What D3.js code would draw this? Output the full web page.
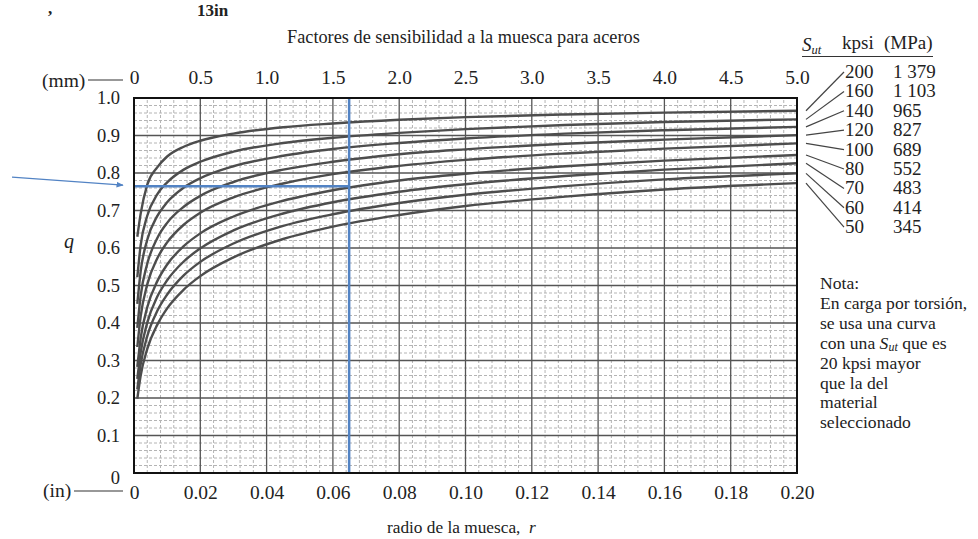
<!DOCTYPE html>
<html>
<head>
<meta charset="utf-8">
<script src="https://cdn.jsdelivr.net/npm/d3@7"></script>
<style>
  body { margin: 0; background: #fff; }
  svg { display: block; font-family: "Liberation Serif", "Times New Roman", serif; }
</style>
</head>
<body>
<div id="chart"></div>
<script>
// notch radius (in) where the curves were read
const rVals = [0.001, 0.002, 0.004, 0.007, 0.01, 0.015, 0.02, 0.03, 0.045, 0.06, 0.08, 0.10, 0.13, 0.16, 0.20];

// q values
const q200 = [0.630, 0.691, 0.769, 0.815, 0.844, 0.870, 0.886, 0.905, 0.922, 0.932, 0.942, 0.949, 0.956, 0.961, 0.966];
const q160 = [0.522, 0.607, 0.686, 0.743, 0.775, 0.809, 0.830, 0.857, 0.880, 0.894, 0.907, 0.917, 0.928, 0.936, 0.943];
const q140 = [0.451, 0.537, 0.622, 0.685, 0.722, 0.761, 0.786, 0.818, 0.846, 0.864, 0.880, 0.892, 0.905, 0.914, 0.923];
const q120 = [0.387, 0.472, 0.558, 0.626, 0.667, 0.710, 0.739, 0.776, 0.809, 0.830, 0.850, 0.863, 0.878, 0.889, 0.901];
const q100 = [0.336, 0.417, 0.503, 0.572, 0.615, 0.662, 0.694, 0.735, 0.772, 0.797, 0.819, 0.835, 0.852, 0.865, 0.879];
const q80  = [0.283, 0.359, 0.442, 0.511, 0.556, 0.605, 0.639, 0.684, 0.726, 0.754, 0.780, 0.798, 0.818, 0.833, 0.848];
const q70  = [0.251, 0.321, 0.401, 0.470, 0.514, 0.564, 0.599, 0.647, 0.692, 0.722, 0.750, 0.770, 0.792, 0.809, 0.826];
const q60  = [0.223, 0.289, 0.365, 0.432, 0.476, 0.527, 0.563, 0.612, 0.659, 0.690, 0.720, 0.742, 0.765, 0.783, 0.799];
const q50  = [0.198, 0.259, 0.331, 0.395, 0.439, 0.489, 0.525, 0.575, 0.624, 0.657, 0.688, 0.712, 0.737, 0.756, 0.773];

const sutKpsi = ["200", "160", "140", "120", "100", "80", "70", "60", "50"];
const sutMpa = ["1 379", "1 103", "965", "827", "689", "552", "483", "414", "345"];
const curves = [q200, q160, q140, q120, q100, q80, q70, q60, q50];

// axis ticks
const inTicks = [0, 0.02, 0.04, 0.06, 0.08, 0.10, 0.12, 0.14, 0.16, 0.18, 0.20];
const mmTicks = [0, 0.5, 1.0, 1.5, 2.0, 2.5, 3.0, 3.5, 4.0, 4.5, 5.0];
const qTicks = [0, 0.1, 0.2, 0.3, 0.4, 0.5, 0.6, 0.7, 0.8, 0.9, 1.0];

// blue reading lines
const readR = 0.0649;
const readQ = 0.765;

const noteLines = ["Nota:", "En carga por torsión,", "se usa una curva", "con una |S|ut| que es",
                   "20 kpsi mayor", "que la del", "material", "seleccionado"];

const W = 978, H = 539;
const blue = "#5283c4";
const ink = "#222";

const svg = d3.select("#chart").append("svg")
    .attr("width", W).attr("height", H);

const x = d3.scaleLinear().domain([0, 0.2]).range([134, 797]);
const xmm = d3.scaleLinear().domain([0, 5]).range([134, 797]);
const y = d3.scaleLinear().domain([0, 1]).range([473, 98]);

// minor dashed grid
const minorX = d3.range(0, 50).filter(i => i % 5 !== 0).map(i => i * 0.004);
const minorY = d3.range(0, 50).filter(i => i % 5 !== 0).map(i => i * 0.02);

const grid = svg.append("g");
grid.selectAll(".mx").data(minorX).enter().append("line")
    .attr("x1", d => x(d)).attr("x2", d => x(d))
    .attr("y1", y(0)).attr("y2", y(1))
    .attr("stroke", "#b4b4b4").attr("stroke-width", 1).attr("stroke-dasharray", "3,2");
grid.selectAll(".my").data(minorY).enter().append("line")
    .attr("x1", x(0)).attr("x2", x(0.2))
    .attr("y1", d => y(d)).attr("y2", d => y(d))
    .attr("stroke", "#b4b4b4").attr("stroke-width", 1).attr("stroke-dasharray", "3,2");

// major grid
grid.selectAll(".Mx").data(inTicks).enter().append("line")
    .attr("x1", d => x(d)).attr("x2", d => x(d))
    .attr("y1", y(0)).attr("y2", y(1))
    .attr("stroke", "#555").attr("stroke-width", 1.3);
grid.selectAll(".My").data(qTicks).enter().append("line")
    .attr("x1", x(0)).attr("x2", x(0.2))
    .attr("y1", d => y(d)).attr("y2", d => y(d))
    .attr("stroke", "#555").attr("stroke-width", 1.3);

// curves
svg.append("clipPath").attr("id", "plotClip")
  .append("rect").attr("x", x(0)).attr("y", y(1)).attr("width", x(0.2) - x(0)).attr("height", y(0) - y(1));

const line = d3.line()
    .x((d, i) => x(rVals[i]))
    .y(d => y(d))
    .curve(d3.curveMonotoneX);

svg.append("g").attr("clip-path", "url(#plotClip)")
  .selectAll("path").data(curves).enter().append("path")
    .attr("d", line)
    .attr("fill", "none")
    .attr("stroke", "#4d4d4d")
    .attr("stroke-width", 2.4);

// blue reading lines
svg.append("line")
    .attr("x1", x(readR)).attr("x2", x(readR))
    .attr("y1", y(0)).attr("y2", y(1))
    .attr("stroke", blue).attr("stroke-width", 2.5);
svg.append("line")
    .attr("x1", x(0)).attr("x2", x(readR))
    .attr("y1", y(readQ)).attr("y2", y(readQ))
    .attr("stroke", blue).attr("stroke-width", 2.5);

// arrow pointing at the q reading
svg.append("defs").append("marker")
    .attr("id", "arrow").attr("viewBox", "0 0 10 10")
    .attr("refX", 9).attr("refY", 5)
    .attr("markerWidth", 6).attr("markerHeight", 6)
    .attr("orient", "auto")
  .append("path").attr("d", "M0,1 L10,5 L0,9 z").attr("fill", blue);
svg.append("line")
    .attr("x1", 12).attr("y1", y(readQ) - 9)
    .attr("x2", 123).attr("y2", y(readQ) - 1)
    .attr("stroke", blue).attr("stroke-width", 1.2)
    .attr("marker-end", "url(#arrow)");

// frame
svg.append("rect")
    .attr("x", x(0)).attr("y", y(1))
    .attr("width", x(0.2) - x(0)).attr("height", y(0) - y(1))
    .attr("fill", "none").attr("stroke", "#111").attr("stroke-width", 2);

// axes
const fmtIn = d => d === 0 ? "0" : d3.format(".2f")(d);
const fmtMm = d => d === 0 ? "0" : d3.format(".1f")(d);
const fmtQ = d => d === 0 ? "0" : d3.format(".1f")(d);

const bottomAxis = svg.append("g")
    .attr("transform", `translate(0, ${y(0) + 9})`)
    .call(d3.axisBottom(x).tickValues(inTicks).tickFormat(fmtIn).tickSize(0));
const topAxis = svg.append("g")
    .attr("transform", `translate(0, ${y(1) - 11})`)
    .call(d3.axisTop(xmm).tickValues(mmTicks).tickFormat(fmtMm).tickSize(0));
const leftAxis = svg.append("g")
    .attr("transform", `translate(${x(0) - 14}, 0)`)
    .call(d3.axisLeft(y).tickValues(qTicks).tickFormat(fmtQ).tickSize(0));

[bottomAxis, topAxis].forEach(a => {
  a.select(".domain").remove();
  a.selectAll("text")
    .attr("font-family", "Liberation Serif, serif")
    .attr("font-size", 19.5)
    .attr("fill", ink);
});
leftAxis.select(".domain").remove();
leftAxis.selectAll("text")
    .attr("font-family", "Liberation Serif, serif")
    .attr("font-size", 18.5)
    .attr("fill", ink);
bottomAxis.selectAll("text").attr("dy", "0.71em");
topAxis.selectAll("text").attr("dy", "0");
leftAxis.selectAll("text").attr("dy", "0.32em").attr("x", 0);
leftAxis.selectAll(".tick").filter(d => d === 0).select("text").attr("dy", "0.55em");

// unit labels with leader dashes
svg.append("text").attr("x", 42).attr("y", 87)
    .attr("font-size", 19.5).attr("fill", ink).text("(mm)");
svg.append("line").attr("x1", 88).attr("x2", 123).attr("y1", 80).attr("y2", 80)
    .attr("stroke", "#333").attr("stroke-width", 1.2);
svg.append("text").attr("x", 43).attr("y", 497)
    .attr("font-size", 19.5).attr("fill", ink).text("(in)");
svg.append("line").attr("x1", 74).attr("x2", 123).attr("y1", 491).attr("y2", 491)
    .attr("stroke", "#333").attr("stroke-width", 1.2);

// titles
svg.append("text").attr("x", 287).attr("y", 43)
    .attr("font-size", 18.3).attr("fill", ink)
    .text("Factores de sensibilidad a la muesca para aceros");
svg.append("text").attr("x", 387).attr("y", 533)
    .attr("font-size", 17.3).attr("fill", ink)
    .attr("xml:space", "preserve")
    .html('radio de la muesca,  <tspan font-style="italic">r</tspan>');
svg.append("text").attr("x", 64).attr("y", 248)
    .attr("font-size", 20).attr("font-style", "italic").attr("fill", ink).text("q");

// legend header
const hdr = svg.append("text").attr("x", 802).attr("y", 51).attr("font-size", 19).attr("fill", ink);
hdr.append("tspan").attr("font-style", "italic").text("S");
hdr.append("tspan").attr("font-style", "italic").attr("font-size", 12.5).attr("dy", 3).text("ut");
svg.append("text").attr("x", 842).attr("y", 49).attr("font-size", 19).attr("fill", ink).text("kpsi");
svg.append("text").attr("x", 884).attr("y", 49).attr("font-size", 19).attr("fill", ink).text("(MPa)");
svg.append("line").attr("x1", 802).attr("x2", 933).attr("y1", 56.5).attr("y2", 56.5)
    .attr("stroke", "#333").attr("stroke-width", 1.2);

// legend rows and leader lines
const rowY = i => 78 + i * 19.4;
const rows = svg.append("g").selectAll("g").data(sutKpsi).enter().append("g");
rows.append("text").attr("x", 845).attr("y", (d, i) => rowY(i))
    .attr("font-size", 19).attr("fill", ink).text(d => d);
rows.append("text").attr("x", 893).attr("y", (d, i) => rowY(i))
    .attr("font-size", 19).attr("fill", ink).text((d, i) => sutMpa[i]);
rows.append("line")
    .attr("x1", x(0.2) + 9).attr("y1", (d, i) => y(curves[i][curves[i].length - 1]))
    .attr("x2", 844).attr("y2", (d, i) => rowY(i) - 6)
    .attr("stroke", "#444").attr("stroke-width", 1.2);

// note
const note = svg.append("g");
noteLines.forEach((s, i) => {
  const t = note.append("text").attr("x", 820).attr("y", 289 + i * 19.9)
      .attr("font-size", 17.6).attr("fill", ink);
  if (s.includes("|")) {
    const parts = s.split("|");
    t.append("tspan").text(parts[0]);
    t.append("tspan").attr("font-style", "italic").text(parts[1]);
    t.append("tspan").attr("font-style", "italic").attr("font-size", 12).attr("dy", 2).text(parts[2]);
    t.append("tspan").attr("dy", -2).text(parts[3]);
  } else {
    t.text(s);
  }
});

// leftover text fragments at the very top
svg.append("text")
    .attr("x", 197).attr("y", 16).attr("font-size", 17).attr("font-weight", "bold").attr("fill", ink)
    .text("13in");
svg.append("text")
    .attr("x", 48).attr("y", 14).attr("font-size", 17).attr("font-weight", "bold").attr("fill", ink)
    .text(",");
</script>
</body>
</html>
